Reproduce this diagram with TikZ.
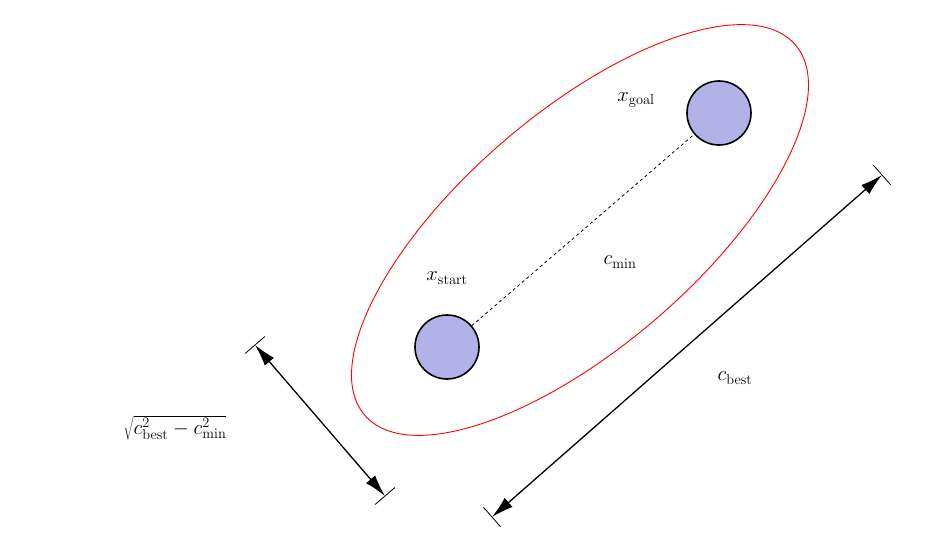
\documentclass[tikz,border=0pt]{standalone}
\usetikzlibrary{arrows.meta,calc}
\definecolor{nodefill}{RGB}{178,178,232}
\begin{document}
\begin{tikzpicture}[x=1pt,y=-1pt,
  pt/.style={circle,draw=black,line width=1.6pt,fill=nodefill,minimum size=64pt,inner sep=0pt},
  dim/.style={line width=1.3pt,{Latex[length=22pt,width=12pt]}-{Latex[length=22pt,width=12pt]}},
  tick/.style={line width=0.8pt},
  lab/.style={font=\huge}]
\useasboundingbox (0,0) rectangle (932,540);
\draw[red,line width=0.9pt] (580,230) ellipse[x radius=284,y radius=117,rotate=40.7];
\node[pt] (s) at (447,347) {};
\node[pt] (g) at (719,113) {};
\draw[dashed,line width=0.8pt] (s) -- (g);
\node[lab] (lg) at (636,100) {$x_{\mathrm{goal}}$};
\node[lab] (ls) at (447,278) {$x_{\mathrm{start}}$};
\node[lab] (lm) at (620,262) {$c_{\min}$};
\node[lab] (lb) at (735,378) {$c_{\mathrm{best}}$};
\node[lab] (lq) at (175,428) {$\sqrt{c_{\mathrm{best}}^2-c_{\min}^2}$};
\coordinate (b1) at (492,517);
\coordinate (b2) at (882,175);
\draw[dim] (b1) -- (b2);
\draw[tick] ($(b1)!13pt!90:(b2)$) -- ($(b1)!13pt!-90:(b2)$);
\draw[tick] ($(b2)!13pt!90:(b1)$) -- ($(b2)!13pt!-90:(b1)$);
\coordinate (a1) at (255,345);
\coordinate (a2) at (385,496);
\draw[dim] (a1) -- (a2);
\draw[tick] ($(a1)!13pt!90:(a2)$) -- ($(a1)!13pt!-90:(a2)$);
\draw[tick] ($(a2)!13pt!90:(a1)$) -- ($(a2)!13pt!-90:(a1)$);
\end{tikzpicture}
\end{document}
